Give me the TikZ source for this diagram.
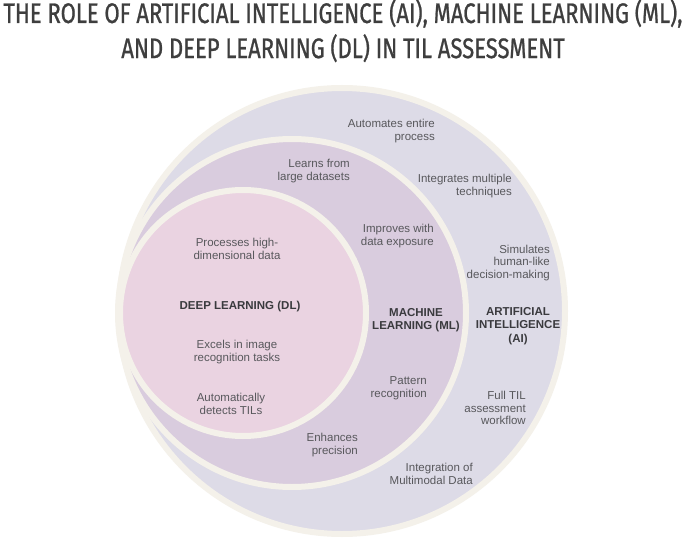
\documentclass[tikz,border=0pt]{standalone}
\usepackage{fontspec}
\usepackage{graphicx}
\setmainfont{Liberation Sans}
\newfontfamily\titlefont[FakeStretch=0.78,FakeBold=0.8]{Fira Sans}
\definecolor{aifill}{RGB}{221,219,231}
\definecolor{mlfill}{RGB}{217,204,222}
\definecolor{dlfill}{RGB}{234,211,225}
\definecolor{cream}{RGB}{244,241,234}
\definecolor{txtgray}{RGB}{88,88,92}
\definecolor{lblgray}{RGB}{58,58,62}
\definecolor{titlegray}{RGB}{62,62,62}
\begin{document}
\begin{tikzpicture}[x=1pt,y=-1pt,
  ring/.style={draw=cream, line width=6pt},
  txt/.style={font=\fontsize{11.5}{12.8}\selectfont, text=txtgray, inner sep=0pt},
  rtxt/.style={txt, align=right, anchor=east},
  ctxt/.style={txt, align=center},
  lbl/.style={font=\bfseries\fontsize{11.5}{13.6}\selectfont, text=lblgray, align=center, inner sep=0pt}]
\path[use as bounding box, fill=white] (0,0) rectangle (685,540);
% title
\node[anchor=base, inner sep=0pt, text=titlegray] (title) at (343,23)
  {\resizebox{679pt}{!}{\titlefont\fontsize{29}{36}\selectfont\setlength{\tabcolsep}{0pt}%
   \begin{tabular}[t]{c}THE ROLE OF ARTIFICIAL INTELLIGENCE (AI), MACHINE LEARNING (ML),\\
   AND DEEP LEARNING (DL) IN TIL ASSESSMENT\end{tabular}}};
% circles
\path[ring, fill=aifill] (342,311) circle[radius=223] coordinate (aic);
\path[ring, fill=mlfill] (292,313) circle[radius=174] coordinate (mlc);
\path[ring, fill=dlfill] (243,313) circle[radius=123] coordinate (dlc);
% AI ring
\node[rtxt] (a1) at (435,131) {Automates entire\\process};
\node[rtxt] (a2) at (512,186) {Integrates multiple\\techniques};
\node[rtxt] (a3) at (550,263) {Simulates\\human-like\\decision-making};
\node[lbl] (ail) at (518,326) {ARTIFICIAL\\INTELLIGENCE\\(AI)};
\node[rtxt] (a4) at (526,408) {Full TIL\\assessment\\workflow};
\node[rtxt] (a5) at (473,474) {Integration of\\Multimodal Data};
% ML ring
\node[rtxt] (m1) at (350,171) {Learns from\\large datasets};
\node[rtxt] (m2) at (434,236) {Improves with\\data exposure};
\node[lbl] (mll) at (416,320) {MACHINE\\LEARNING (ML)};
\node[rtxt] (m3) at (427,388) {Pattern\\recognition};
\node[rtxt] (m4) at (358,445) {Enhances\\precision};
% DL circle
\node[ctxt] (d1) at (237,249) {Processes high-\\dimensional data};
\node[lbl] (dll) at (240,307) {DEEP LEARNING (DL)};
\node[ctxt] (d2) at (237,352) {Excels in image\\recognition tasks};
\node[ctxt] (d3) at (231,404) {Automatically\\detects TILs};
\end{tikzpicture}
\end{document}
